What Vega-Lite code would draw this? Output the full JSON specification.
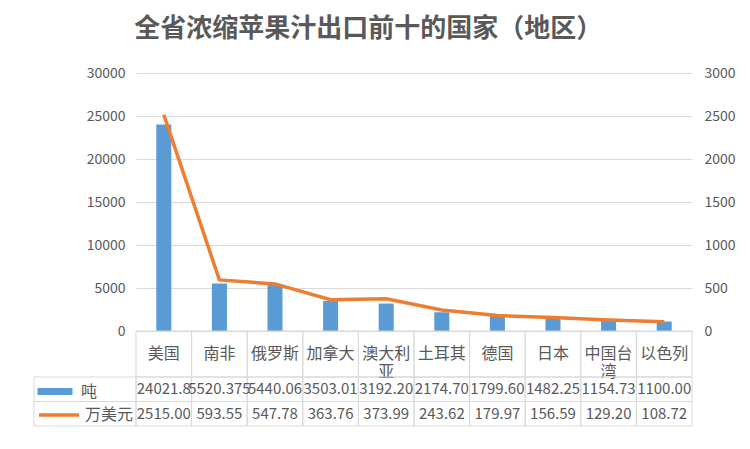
{
  "$schema": "https://vega.github.io/schema/vega-lite/v6.json",
  "padding": {"left": 33, "top": 16, "right": 5, "bottom": 5},
  "background": "white",
  "title": {
    "text": "全省浓缩苹果汁出口前十的国家（地区）",
    "fontSize": 26,
    "fontWeight": "bold",
    "color": "#595959",
    "font": "Noto Sans CJK SC",
    "anchor": "middle",
    "offset": 24,
    "dx": -16
  },
  "datasets": {
    "exports": [
      {"country": "美国", "label": "美国", "tons": 24021.8, "usd": 2515.00, "tonsText": "24021.8", "usdText": "2515.00"},
      {"country": "南非", "label": "南非", "tons": 5520.375, "usd": 593.55, "tonsText": "5520.375", "usdText": "593.55"},
      {"country": "俄罗斯", "label": "俄罗斯", "tons": 5440.06, "usd": 547.78, "tonsText": "5440.06", "usdText": "547.78"},
      {"country": "加拿大", "label": "加拿大", "tons": 3503.01, "usd": 363.76, "tonsText": "3503.01", "usdText": "363.76"},
      {"country": "澳大利亚", "label": "澳大利\n亚", "tons": 3192.20, "usd": 373.99, "tonsText": "3192.20", "usdText": "373.99"},
      {"country": "土耳其", "label": "土耳其", "tons": 2174.70, "usd": 243.62, "tonsText": "2174.70", "usdText": "243.62"},
      {"country": "德国", "label": "德国", "tons": 1799.60, "usd": 179.97, "tonsText": "1799.60", "usdText": "179.97"},
      {"country": "日本", "label": "日本", "tons": 1482.25, "usd": 156.59, "tonsText": "1482.25", "usdText": "156.59"},
      {"country": "中国台湾", "label": "中国台\n湾", "tons": 1154.73, "usd": 129.20, "tonsText": "1154.73", "usdText": "129.20"},
      {"country": "以色列", "label": "以色列", "tons": 1100.00, "usd": 108.72, "tonsText": "1100.00", "usdText": "108.72"}
    ]
  },
  "columns": 2,
  "spacing": 0,
  "bounds": "flush",
  "concat": [
    {
      "width": 102, "height": 258,
      "data": {"values": [{}]},
      "mark": {"type": "text", "text": ""},
      "encoding": {}
    },
    {
      "width": 556, "height": 258,
      "data": {"name": "exports"},
      "encoding": {
        "x": {
          "field": "country", "type": "nominal", "sort": null,
          "scale": {"paddingInner": 0, "paddingOuter": 0},
          "axis": {"title": null, "labels": false, "ticks": false, "domain": true, "domainColor": "#d9d9d9", "grid": false}
        }
      },
      "layer": [
        {
          "mark": {"type": "bar", "width": {"band": 0.27}},
          "encoding": {
            "y": {
              "field": "tons", "type": "quantitative",
              "scale": {"domain": [0, 30000]},
              "axis": {"orient": "left", "values": [0, 5000, 10000, 15000, 20000, 25000, 30000], "format": "d", "title": null, "grid": true, "gridColor": "#d9d9d9", "domain": false, "ticks": false, "labelPadding": 11}
            },
            "fill": {
              "datum": "吨", "type": "nominal",
              "scale": {"range": ["#5b9bd5"]},
              "legend": {"orient": "none", "legendX": 3.5, "legendY": 301, "title": null, "padding": 0, "symbolType": "M-1,-0.2H1V0.2H-1Z", "symbolSize": 1225, "symbolStrokeWidth": 0, "labelOffset": 8.5, "labelFontSize": 16, "labelColor": "#595959", "labelFont": "Noto Sans CJK SC"}
            }
          }
        },
        {
          "mark": {"type": "line", "strokeWidth": 3.5},
          "encoding": {
            "y": {
              "field": "usd", "type": "quantitative",
              "scale": {"domain": [0, 3000]},
              "axis": {"orient": "right", "values": [0, 500, 1000, 1500, 2000, 2500, 3000], "format": "d", "title": null, "grid": false, "domain": false, "ticks": false, "labelPadding": 12}
            },
            "stroke": {
              "datum": "万美元", "type": "nominal",
              "scale": {"range": ["#ed7d31"]},
              "legend": {"orient": "none", "legendX": 3, "legendY": 320, "title": null, "padding": 0, "symbolType": "stroke", "symbolSize": 1600, "symbolStrokeWidth": 3.5, "labelOffset": 4, "labelFontSize": 16, "labelColor": "#595959", "labelFont": "Noto Sans CJK SC"}
            }
          }
        }
      ],
      "resolve": {"scale": {"y": "independent"}}
    },
    {
      "width": 102, "height": 46,
      "data": {"values": [{}]},
      "mark": {"type": "text", "text": ""},
      "encoding": {}
    },
    {
      "width": 556, "height": 46,
      "data": {"name": "exports"},
      "encoding": {
        "x": {"field": "country", "type": "nominal", "sort": null, "scale": {"paddingInner": 0, "paddingOuter": 0}, "axis": null}
      },
      "layer": [
        {"mark": {"type": "rect", "filled": false, "stroke": "#d9d9d9", "strokeWidth": 1}},
        {"mark": {"type": "text", "fontSize": 16, "color": "#595959", "lineBreak": "\n", "lineHeight": 18, "font": "Noto Sans CJK SC"}, "encoding": {"text": {"field": "label"}}}
      ]
    },
    {
      "width": 102, "height": 49,
      "data": {"values": [{"series": "吨"}, {"series": "万美元"}]},
      "mark": {"type": "rect", "filled": false, "stroke": "#d9d9d9", "strokeWidth": 1},
      "encoding": {
        "y": {"field": "series", "type": "nominal", "sort": null, "scale": {"paddingInner": 0, "paddingOuter": 0}, "axis": null}
      }
    },
    {
      "width": 556, "height": 49,
      "data": {"name": "exports"},
      "transform": [{"fold": ["tonsText", "usdText"]}],
      "encoding": {
        "x": {"field": "country", "type": "nominal", "sort": null, "scale": {"paddingInner": 0, "paddingOuter": 0}, "axis": null},
        "y": {"field": "key", "type": "nominal", "sort": ["tonsText", "usdText"], "scale": {"paddingInner": 0, "paddingOuter": 0}, "axis": null}
      },
      "layer": [
        {"mark": {"type": "rect", "filled": false, "stroke": "#d9d9d9", "strokeWidth": 1}},
        {"mark": {"type": "text", "fontSize": 15, "color": "#595959", "font": "Noto Sans CJK SC"}, "encoding": {"text": {"field": "value"}}}
      ]
    }
  ],
  "config": {
    "view": {"stroke": null},
    "font": "Noto Sans CJK SC",
    "axis": {"labelFont": "Noto Sans CJK SC", "labelFontSize": 14, "labelColor": "#595959"}
  }
}
